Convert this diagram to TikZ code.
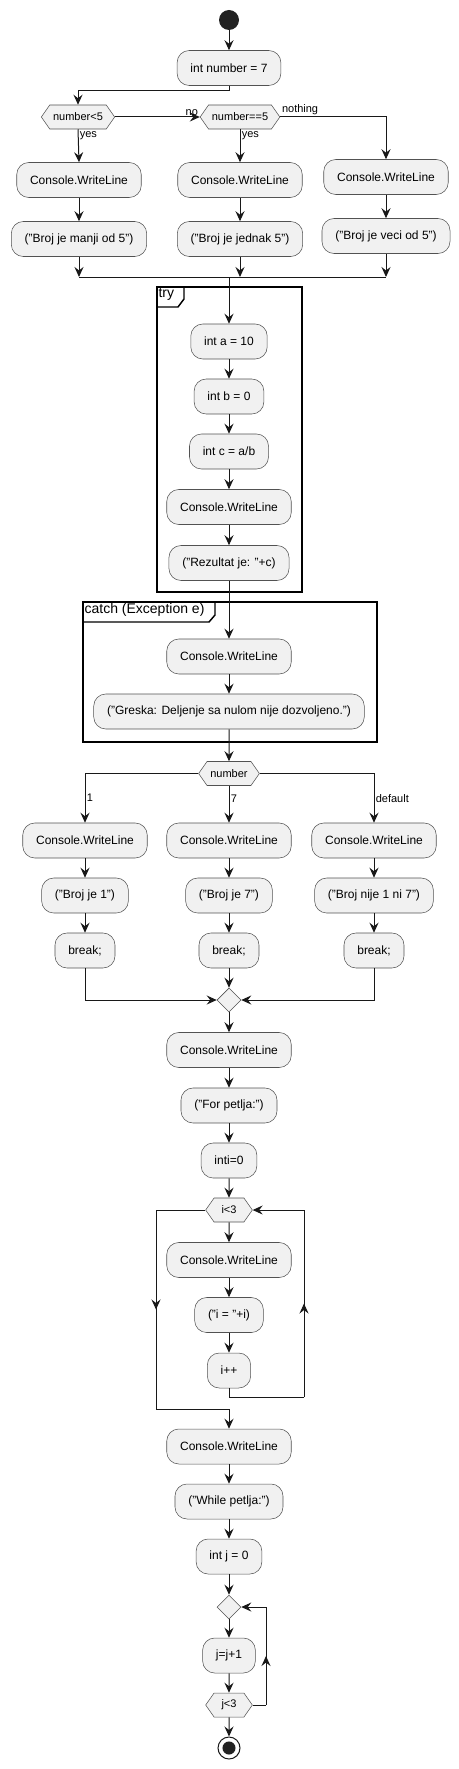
\documentclass[tikz,border=0pt]{standalone}
\usepackage{fontspec}
\setmainfont{Liberation Sans}
\usetikzlibrary{positioning, arrows.meta, shapes.geometric, shapes.symbols, decorations.markings}

\definecolor{boxfill}{HTML}{F1F1F1}
\definecolor{lineclr}{HTML}{181818}
\definecolor{dotclr}{HTML}{222222}

\begin{document}
\begin{tikzpicture}[x=0.75pt, y=-0.75pt]
    % Define styles
    \tikzstyle{act} = [draw=lineclr!75, line width=0.4pt, fill=boxfill, rounded corners=9pt, minimum height=26.25pt, inner xsep=10pt, inner ysep=0pt, font=\fontsize{9}{11}\selectfont]
    \tikzstyle{hexa} = [draw=lineclr!75, line width=0.4pt, fill=boxfill, shape=signal, signal to=east and west, signal pointer angle=110, minimum height=18pt, inner xsep=2.5pt, inner ysep=0pt, font=\fontsize{8.25}{10}\selectfont]
    \tikzstyle{merge} = [draw=lineclr!75, line width=0.4pt, fill=boxfill, shape=diamond, minimum width=18pt, minimum height=18pt, inner sep=0pt]
    \tikzstyle{flow} = [draw=lineclr, line width=0.75pt]
    \tikzstyle{arr} = [flow, -{Stealth[length=7.5pt, width=6.75pt, inset=2.6pt]}]
    \tikzstyle{midtip} = [postaction={decorate}, decoration={markings, mark=at position 0.5 with {\arrow{Stealth[length=7.5pt, width=6.75pt, inset=2.6pt]}}}]
    \tikzstyle{lbl} = [font=\fontsize{8.25}{10}\selectfont, inner sep=1pt]
    \tikzstyle{frame} = [draw=black, line width=1.1pt]
    \tikzstyle{framelbl} = [anchor=north west, font=\fontsize{10.5}{12}\selectfont, inner sep=1pt]

    \useasboundingbox (0,0) rectangle (458,1769);

    % Start and if / else if / else
    \node[circle, fill=dotclr, minimum size=15pt, inner sep=0pt] (start) at (229,20) {};
    \node[act] (num) at (229,68) {int number = 7};
    \node[hexa] (if1) at (78,117) {number<5};
    \node[hexa] (if2) at (240,117) {number==5};
    \node[act] (lt1) at (79,180) {Console.WriteLine};
    \node[act] (lt2) at (79,239) {("Broj je manji od 5")};
    \node[act] (eq1) at (240,180) {Console.WriteLine};
    \node[act] (eq2) at (240,239) {("Broj je jednak 5")};
    \node[act] (gt1) at (386,177) {Console.WriteLine};
    \node[act] (gt2) at (386,236) {("Broj je veci od 5")};
    \coordinate (join1) at (229,277);

    \draw[arr] (start) -- (num);
    \draw[arr] (num.south) -- ++(0,5) -| (if1.north);
    \draw[arr] (if1.east) -- (if2.west) node[lbl, pos=1, above left] {no};
    \draw[arr] (if2.east) -| (gt1.north) node[lbl, pos=0, above right] {nothing};
    \draw[arr] (if1.south) -- (lt1.north) node[lbl, pos=0, below right] {yes};
    \draw[arr] (if2.south) -- (eq1.north) node[lbl, pos=0, below right] {yes};
    \foreach \a/\b in {lt1/lt2, eq1/eq2, gt1/gt2} {
        \draw[arr] (\a) -- (\b);
        \draw[arr] (\b.south) -- (\b.south |- join1);
    }
    \draw[flow] (lt2.south |- join1) -- (gt2.south |- join1);

    % try block
    \draw[frame] (157,287) rectangle (302,592);
    \draw[frame] (157,307) -- (178,307) -- (184,299) -- (184,287);
    \node[framelbl] (trylbl) at (157,287) {try};
    \node[act] (ta) at (229,341.5) {int a = 10};
    \node[act] (tb) at (229,396.5) {int b = 0};
    \node[act] (tc) at (229,451.5) {int c = a/b};
    \node[act] (td) at (229,507) {Console.WriteLine};
    \node[act] (te) at (229,563) {("Rezultat je: "+c)};

    % catch block
    \draw[frame] (83,602) rectangle (377,742);
    \draw[frame] (83,622) -- (209,622) -- (215,615) -- (215,602);
    \node[framelbl] (catchlbl) at (83,602) {catch (Exception e)};
    \node[act] (ca) at (229,656.5) {Console.WriteLine};
    \node[act] (cb) at (229,711.5) {("Greska: Deljenje sa nulom nije dozvoljeno.")};

    \draw[arr] (join1) -- (ta.north);
    \foreach \a/\b in {ta/tb, tb/tc, tc/td, td/te, te/ca, ca/cb} {
        \draw[arr] (\a) -- (\b);
    }

    % switch
    \node[hexa] (sw) at (229,773.5) {number};
    \foreach \x/\name/\txt in {85/one/{("Broj je 1")}, 229/sev/{("Broj je 7")}, 374/def/{("Broj nije 1 ni 7")}} {
        \node[act] (\name1) at (\x,840.5) {Console.WriteLine};
        \node[act] (\name2) at (\x,895.5) {\txt};
        \node[act] (\name3) at (\x,950.5) {break;};
        \draw[arr] (\name1) -- (\name2);
        \draw[arr] (\name2) -- (\name3);
    }
    \node[merge] (mg) at (229,1000) {};

    \draw[arr] (cb) -- (sw);
    \draw[arr] (sw.west) -| (one1.north) node[lbl, pos=0.75, right] {1};
    \draw[arr] (sw.south) -- (sev1.north) node[lbl, pos=0.35, right] {7};
    \draw[arr] (sw.east) -| (def1.north) node[lbl, pos=0.75, right] {default};
    \draw[arr] (one3.south) |- (mg.west);
    \draw[arr] (sev3.south) -- (mg.north);
    \draw[arr] (def3.south) |- (mg.east);

    % for loop
    \node[act] (fa) at (229,1050) {Console.WriteLine};
    \node[act] (fb) at (229,1105.5) {("For petlja:")};
    \node[act] (fc) at (229,1160.5) {inti=0};
    \node[hexa, minimum width=35pt] (fd) at (229,1210) {i<3};
    \node[act] (fe) at (229,1260) {Console.WriteLine};
    \node[act] (ff) at (229,1315) {("i = "+i)};
    \node[act] (fg) at (229,1370.5) {i++};
    \coordinate (loopr) at (304,1397);
    \coordinate (loopl) at (156,1409);

    \draw[arr] (mg.south) -- (fa.north);
    \foreach \a/\b in {fa/fb, fb/fc, fc/fd, fd/fe, fe/ff, ff/fg} {
        \draw[arr] (\a) -- (\b);
    }
    \draw[flow] (fg.south) |- (loopr);
    \draw[flow, midtip] (loopr) -- (loopr |- fd.east);
    \draw[arr] (loopr |- fd.east) -- (fd.east);
    \draw[flow] (fd.west) -- (fd.west -| loopl);
    \draw[flow, midtip] (fd.west -| loopl) -- (loopl);

    % while loop
    \node[act] (wa) at (229,1446.5) {Console.WriteLine};
    \node[act] (wb) at (229,1501.5) {("While petlja:")};
    \node[act] (wc) at (229,1556.5) {int j = 0};
    \node[merge] (wd) at (229,1607) {};
    \node[act] (we) at (229,1655.5) {j=j+1};
    \node[hexa, minimum width=35pt] (wf) at (229,1705) {j<3};
    \node[circle, draw=lineclr, line width=0.75pt, fill=white, minimum size=16.5pt, inner sep=0pt,
        path picture={\fill[dotclr] (path picture bounding box.center) circle (4.9pt);}] (stop) at (229,1748) {};
    \coordinate (loopw) at (266,1705);

    \draw[arr] (loopl) -| (wa.north);
    \foreach \a/\b in {wa/wb, wb/wc, wc/wd, wd/we, we/wf, wf/stop} {
        \draw[arr] (\a) -- (\b);
    }
    \draw[flow] (wf.east) -- (loopw);
    \draw[flow, midtip] (loopw) -- (loopw |- wd.east);
    \draw[arr] (loopw |- wd.east) -- (wd.east);
\end{tikzpicture}
\end{document}
